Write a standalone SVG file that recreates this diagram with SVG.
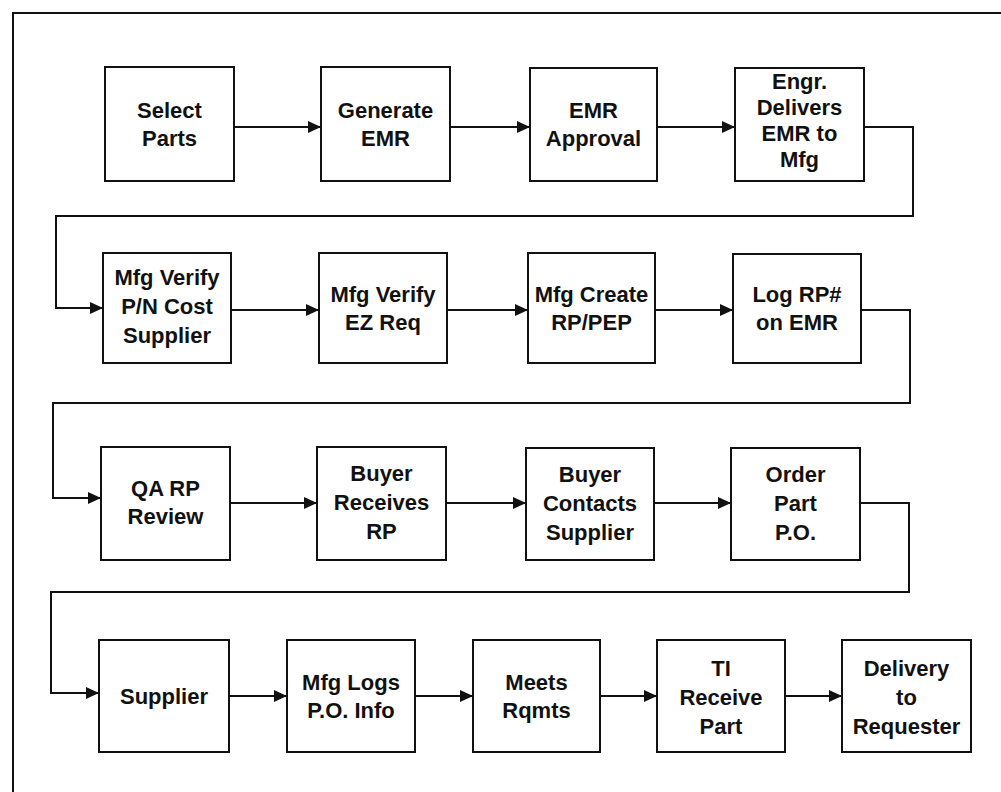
<svg xmlns="http://www.w3.org/2000/svg" width="1001" height="792" viewBox="0 0 1001 792">
<style>
.box{fill:#fff;stroke:#111;stroke-width:2}
.lbl{font-family:"Liberation Sans",Arial,sans-serif;font-weight:bold;font-size:22px;fill:#111;text-anchor:middle}
.con{fill:none;stroke:#111;stroke-width:2;marker-end:url(#ah)}
</style>
<defs>
<marker id="ah" markerUnits="userSpaceOnUse" markerWidth="14" markerHeight="14" refX="13" refY="7" orient="auto">
<path d="M0,1 L13,7 L0,13 Z" fill="#111"/>
</marker>
</defs>
<rect x="13" y="13" width="1010" height="800" fill="none" stroke="#111" stroke-width="2"/>
<g id="connectors">
<path class="con" d="M234,127 H321"/>
<path class="con" d="M450,127 H530"/>
<path class="con" d="M657,127 H735"/>
<path class="con" d="M864,127 H913 V216 H56 V308 H103"/>
<path class="con" d="M231,310 H319"/>
<path class="con" d="M447,310 H528"/>
<path class="con" d="M655,310 H733"/>
<path class="con" d="M861,310 H910 V403 H53 V498 H101"/>
<path class="con" d="M230,503 H317"/>
<path class="con" d="M446,503 H526"/>
<path class="con" d="M654,503 H731"/>
<path class="con" d="M860,503 H909 V592 H51 V693 H99"/>
<path class="con" d="M229,696 H287"/>
<path class="con" d="M415,696 H473"/>
<path class="con" d="M600,696 H657"/>
<path class="con" d="M785,696 H842"/>
</g>
<g id="n1"><rect class="box" x="105" y="67" width="129" height="114"/><text class="lbl" x="169.5" y="118">Select</text><text class="lbl" x="169.5" y="146">Parts</text></g>
<g id="n2"><rect class="box" x="321" y="67" width="129" height="114"/><text class="lbl" x="385.5" y="118">Generate</text><text class="lbl" x="385.5" y="146">EMR</text></g>
<g id="n3"><rect class="box" x="530" y="68" width="127" height="113"/><text class="lbl" x="593.5" y="118">EMR</text><text class="lbl" x="593.5" y="146">Approval</text></g>
<g id="n4"><rect class="box" x="735" y="68" width="129" height="113"/><text class="lbl" x="799.5" y="89">Engr.</text><text class="lbl" x="799.5" y="115">Delivers</text><text class="lbl" x="799.5" y="141">EMR to</text><text class="lbl" x="799.5" y="167">Mfg</text></g>
<g id="n5"><rect class="box" x="103" y="253" width="128" height="110"/><text class="lbl" x="167" y="285">Mfg Verify</text><text class="lbl" x="167" y="314">P/N Cost</text><text class="lbl" x="167" y="343">Supplier</text></g>
<g id="n6"><rect class="box" x="319" y="253" width="128" height="110"/><text class="lbl" x="383" y="302">Mfg Verify</text><text class="lbl" x="383" y="330">EZ Req</text></g>
<g id="n7"><rect class="box" x="528" y="253" width="127" height="110"/><text class="lbl" x="591.5" y="302">Mfg Create</text><text class="lbl" x="591.5" y="330">RP/PEP</text></g>
<g id="n8"><rect class="box" x="733" y="254" width="128" height="109"/><text class="lbl" x="797" y="302">Log RP#</text><text class="lbl" x="797" y="330">on EMR</text></g>
<g id="n9"><rect class="box" x="101" y="447" width="129" height="113"/><text class="lbl" x="165.5" y="496">QA RP</text><text class="lbl" x="165.5" y="524">Review</text></g>
<g id="n10"><rect class="box" x="317" y="447" width="129" height="113"/><text class="lbl" x="381.5" y="481">Buyer</text><text class="lbl" x="381.5" y="510">Receives</text><text class="lbl" x="381.5" y="539">RP</text></g>
<g id="n11"><rect class="box" x="526" y="448" width="128" height="112"/><text class="lbl" x="590" y="482">Buyer</text><text class="lbl" x="590" y="511">Contacts</text><text class="lbl" x="590" y="540">Supplier</text></g>
<g id="n12"><rect class="box" x="731" y="448" width="129" height="112"/><text class="lbl" x="795.5" y="482">Order</text><text class="lbl" x="795.5" y="511">Part</text><text class="lbl" x="795.5" y="540">P.O.</text></g>
<g id="n13"><rect class="box" x="99" y="640" width="130" height="112"/><text class="lbl" x="164" y="704">Supplier</text></g>
<g id="n14"><rect class="box" x="287" y="640" width="128" height="112"/><text class="lbl" x="351" y="690">Mfg Logs</text><text class="lbl" x="351" y="718">P.O. Info</text></g>
<g id="n15"><rect class="box" x="473" y="640" width="127" height="112"/><text class="lbl" x="536.5" y="690">Meets</text><text class="lbl" x="536.5" y="718">Rqmts</text></g>
<g id="n16"><rect class="box" x="657" y="640" width="128" height="112"/><text class="lbl" x="721" y="676">TI</text><text class="lbl" x="721" y="705">Receive</text><text class="lbl" x="721" y="734">Part</text></g>
<g id="n17"><rect class="box" x="842" y="640" width="129" height="112"/><text class="lbl" x="906.5" y="676">Delivery</text><text class="lbl" x="906.5" y="705">to</text><text class="lbl" x="906.5" y="734">Requester</text></g>
</svg>
